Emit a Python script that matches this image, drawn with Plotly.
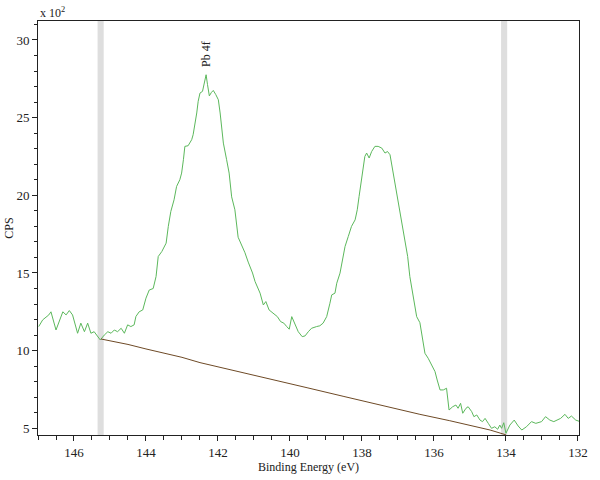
import plotly.graph_objects as go

# Spectrum (binding energy in eV, counts in units of 10^2 CPS)
spec_ev = [146.98, 146.87, 146.70, 146.64, 146.50, 146.31, 146.22, 146.13, 146.04, 145.90,
           145.81, 145.71, 145.62, 145.53, 145.44, 145.34, 145.27, 145.16, 145.06, 144.97,
           144.88, 144.79, 144.69, 144.60, 144.51, 144.42, 144.33, 144.28, 144.19, 144.09,
           144.00, 143.91, 143.80, 143.72, 143.66, 143.56, 143.44, 143.38, 143.31, 143.22,
           143.15, 143.06, 143.01, 142.96, 142.92, 142.83, 142.73, 142.69, 142.64, 142.59,
           142.55, 142.50, 142.43, 142.38, 142.33, 142.29, 142.24, 142.18, 142.13, 142.06,
           141.99, 141.94, 141.90, 141.85, 141.76, 141.69, 141.62, 141.53, 141.44, 141.25,
           141.16, 141.04, 140.97, 140.91, 140.83, 140.74, 140.67, 140.58, 140.46, 140.35,
           140.26, 140.17, 140.09, 140.02, 139.95, 139.86, 139.77, 139.66, 139.58, 139.49,
           139.40, 139.26, 139.17, 139.08, 138.98, 138.89, 138.84, 138.75, 138.70, 138.61,
           138.54, 138.47, 138.38, 138.29, 138.19, 138.13, 138.08, 138.01, 137.96, 137.92,
           137.87, 137.80, 137.73, 137.64, 137.55, 137.45, 137.36, 137.29, 137.22, 137.18,
           137.11, 137.04, 136.94, 136.85, 136.78, 136.73, 136.67, 136.58, 136.48, 136.39,
           136.34, 136.25, 136.16, 136.06, 135.97, 135.91, 135.83, 135.74, 135.65, 135.58,
           135.48, 135.39, 135.33, 135.26, 135.20, 135.11, 135.05, 134.95, 134.89, 134.81,
           134.72, 134.65, 134.58, 134.49, 134.40, 134.31, 134.23, 134.17, 134.12, 134.06,
           134.00, 133.89, 133.77, 133.66, 133.56, 133.43, 133.29, 133.17, 133.01, 132.90,
           132.78, 132.67, 132.48, 132.36, 132.27, 132.18, 132.06, 131.94]
spec_cps = [11.55, 11.98, 12.30, 12.50, 11.33, 12.50, 12.30, 12.58, 12.30, 11.12,
            11.77, 11.22, 11.77, 11.12, 11.22, 10.90, 10.69, 11.00, 11.22, 11.12,
            11.33, 11.22, 11.44, 11.12, 11.66, 11.55, 11.66, 12.20, 12.50, 12.62,
            13.38, 13.90, 14.00, 14.77, 16.06, 16.38, 16.92, 18.00, 18.96, 19.71,
            20.57, 21.00, 21.43, 22.29, 23.15, 23.19, 23.58, 23.90, 24.54, 25.30,
            26.05, 26.58, 26.69, 27.23, 27.76, 27.12, 26.40, 26.63, 26.75, 26.48,
            26.15, 25.30, 24.43, 23.36, 22.29, 21.43, 19.90, 19.07, 17.30, 16.30,
            15.70, 15.00, 14.45, 14.12, 13.70, 12.94, 13.16, 12.62, 12.41, 12.19,
            11.87, 11.77, 11.55, 11.38, 12.19, 11.66, 11.22, 10.90, 10.95, 11.22,
            11.44, 11.55, 11.60, 11.77, 12.19, 13.05, 13.59, 13.70, 14.34, 14.99,
            15.84, 16.70, 17.35, 18.00, 18.42, 19.07, 19.92, 21.00, 21.86, 22.50,
            22.72, 22.40, 22.82, 23.15, 23.15, 23.04, 22.72, 22.82, 22.61, 22.07,
            21.21, 20.14, 18.85, 17.78, 16.70, 16.06, 14.77, 13.48, 12.19, 11.80,
            11.12, 9.83, 9.51, 9.08, 8.65, 8.11, 7.47, 7.47, 7.58, 6.18,
            6.39, 6.50, 6.29, 6.61, 5.97, 6.29, 6.39, 6.07, 5.75, 5.86,
            5.53, 5.43, 5.64, 5.32, 5.00, 5.10, 4.94, 5.21, 5.00, 5.36,
            4.68, 5.21, 5.53, 5.15, 4.89, 5.10, 5.43, 5.32, 5.43, 5.75,
            5.53, 5.43, 5.64, 5.90, 5.64, 5.79, 5.53, 5.43]

# Background (Shirley-like) under the Pb 4f region
bg_ev = [145.25, 144.5, 144.0, 143.0, 142.5, 141.5, 140.5, 139.5, 138.5, 137.5,
         136.94, 136.39, 135.56, 134.81, 134.44, 134.0]
bg_cps = [10.75, 10.40, 10.11, 9.57, 9.23, 8.70, 8.15, 7.60, 7.05, 6.50,
          6.22, 5.90, 5.49, 5.06, 4.89, 4.58]

# Region limits (grey markers)
region_ev = [145.26, 134.05]

peak_label = "Pb 4f"
peak_ev = 142.33
peak_label_y = 29.1

x_tickvals = [146, 144, 142, 140, 138, 136, 134, 132]
y_tickvals = [5, 10, 15, 20, 25, 30]

FONT = "Liberation Serif, Times New Roman, serif"

fig = go.Figure()
fig.add_trace(go.Scatter(x=spec_ev, y=spec_cps, mode="lines",
                         line=dict(color="#5cb85c", width=1), showlegend=False,
                         hoverinfo="skip"))
fig.add_trace(go.Scatter(x=bg_ev, y=bg_cps, mode="lines",
                         line=dict(color="#6e4a26", width=1), showlegend=False,
                         hoverinfo="skip"))

for xv in region_ev:
    fig.add_shape(type="rect", xref="x", yref="paper", x0=xv - 0.085, x1=xv + 0.085,
                  y0=0, y1=1, fillcolor="#dedede", line=dict(width=0), layer="below")

fig.add_annotation(x=peak_ev, y=peak_label_y, xref="x", yref="y", text=peak_label,
                   textangle=-90, showarrow=False, xanchor="center", yanchor="middle",
                   font=dict(family=FONT, size=12, color="#222"))
fig.add_annotation(x=0, y=1, xref="paper", yref="paper", text="x 10<sup>2</sup>",
                   showarrow=False, xanchor="left", yanchor="bottom", yshift=-1,
                   font=dict(family=FONT, size=12, color="#222222"))

fig.update_layout(
    width=600, height=480,
    margin=dict(l=38, r=21, t=21, b=45, autoexpand=False),
    paper_bgcolor="white", plot_bgcolor="white",
    font=dict(family=FONT, size=12, color="#222"),
    xaxis=dict(range=[147.0, 131.97], tickvals=x_tickvals,
               ticktext=[str(v) for v in x_tickvals], automargin=False,
               tickfont=dict(size=13),
               showgrid=False, zeroline=False, showline=True, linecolor="#222",
               linewidth=1, mirror=True, ticks="outside", ticklen=5, tickcolor="#222",
               minor=dict(dtick=0.5, tick0=0, ticks="outside", ticklen=4, tickcolor="#222",
                          showgrid=False),
               title=dict(text="Binding Energy (eV)", standoff=2,
                          font=dict(family=FONT, size=12))),
    yaxis=dict(range=[4.57, 31.22], tickvals=y_tickvals,
               ticktext=[str(v) for v in y_tickvals], automargin=False,
               tickfont=dict(size=13),
               showgrid=False, zeroline=False, showline=True, linecolor="#222",
               linewidth=1, mirror=True, ticks="outside", ticklen=5, tickcolor="#222",
               minor=dict(dtick=1, tick0=0, ticks="outside", ticklen=3, tickcolor="#222",
                          showgrid=False),
               title=dict(text="CPS", standoff=0, font=dict(family=FONT, size=12))),
)

fig.write_html("out.html", config={"displayModeBar": False},
               post_script="document.body.style.margin='0';")
